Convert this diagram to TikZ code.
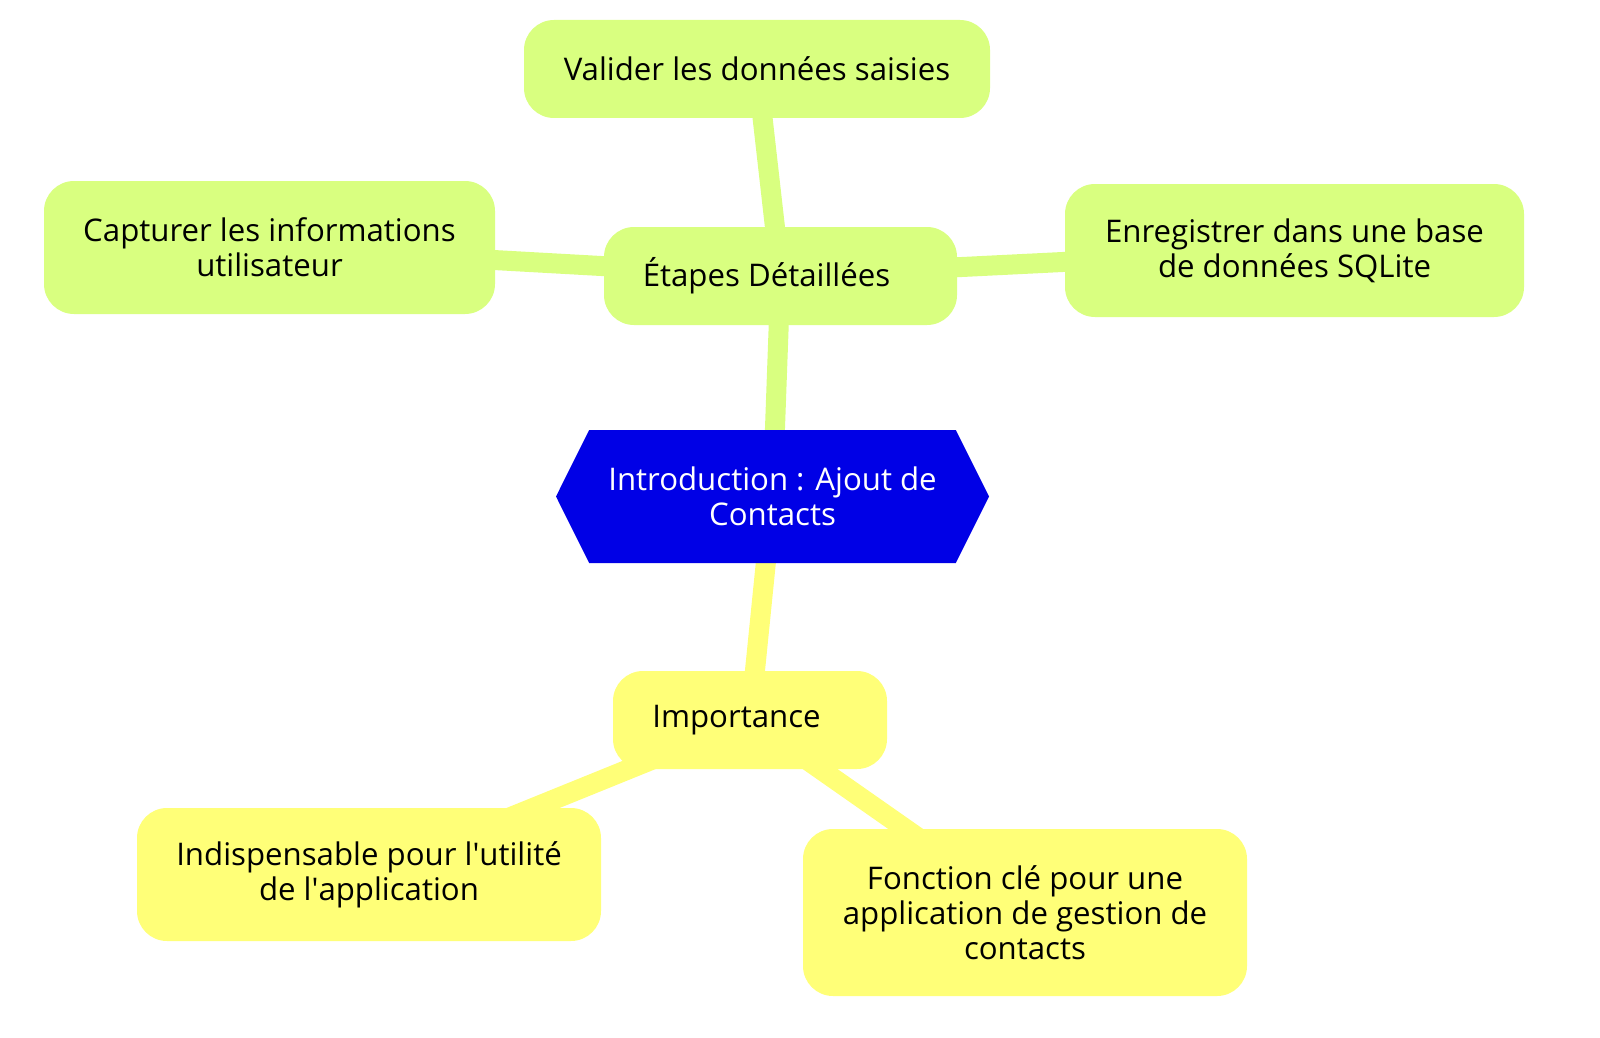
\documentclass[tikz,border=0pt]{standalone}
\usepackage{fontspec}
\setmainfont{Open Sans}
\usetikzlibrary{shapes.symbols,backgrounds}
\definecolor{stepgreen}{HTML}{D9FF80}
\definecolor{keyyellow}{HTML}{FFFF78}
\definecolor{rootblue}{HTML}{0000E6}
\tikzset{%
  mapnode/.style  = {shape=rectangle, rounded corners=15pt, align=center,%
                     inner sep=0pt, font=\fontsize{15.6}{17.5}\selectfont},%
  stepnode/.style = {mapnode, fill=stepgreen},%
  keynode/.style  = {mapnode, fill=keyyellow},%
  root/.style     = {shape=signal, signal to=east and west, signal pointer angle=127,%
                     fill=rootblue, text=white, align=center, inner sep=0pt,%
                     font=\fontsize{15.6}{17.5}\selectfont},%
  branch/.style   = {line width=10pt}%
}
\begin{document}
\begin{tikzpicture}[x=0.5pt, y=-0.5pt]
              % -------------- ROOT -----------------------------
              \node [root, minimum width=216.5pt, minimum height=66.5pt] (intro) at (772.5,496.5)
                {Introduction : Ajout de\\Contacts};
              % -------------- DETAILED STEPS -----------------------------
              \node [stepnode, minimum width=176.5pt, minimum height=49pt] (etapes) at (780.5,276)
                {\'Etapes D\'etaill\'ees\hspace*{14pt}};
              \node [stepnode, minimum width=233pt, minimum height=49pt] (valider) at (757,69)
                {Valider les donn\'ees saisies};
              \node [stepnode, minimum width=225.5pt, minimum height=66.5pt] (capturer) at (269.5,247.5)
                {Capturer les informations\\utilisateur};
              \node [stepnode, minimum width=229.5pt, minimum height=66.5pt] (enregistrer) at (1294.5,250.5)
                {Enregistrer dans une base\\de donn\'ees SQLite};
              % -------------- IMPORTANCE -----------------------------
              \node [keynode, minimum width=137pt, minimum height=49pt] (importance) at (750,720)
                {Importance\hspace*{13.5pt}};
              \node [keynode, minimum width=232pt, minimum height=66.5pt] (indisp) at (369,874.5)
                {Indispensable pour l\textquotesingle utilit\'e\\de l\textquotesingle application};
              \node [keynode, minimum width=222pt, minimum height=83.5pt] (fonction) at (1025,912.5)
                {Fonction cl\'e pour une\\application de gestion de\\contacts};
              \begin{scope}[on background layer]
                \draw [branch, stepgreen] (intro.center) -- (etapes.center);
                \draw [branch, stepgreen] (etapes.center) -- (valider.center);
                \draw [branch, stepgreen] (etapes.center) -- (capturer.center);
                \draw [branch, stepgreen] (etapes.center) -- (enregistrer.center);
                \draw [branch, keyyellow] (intro.center) -- (importance.center);
                \draw [branch, keyyellow] (importance.center) -- (indisp.center);
                \draw [branch, keyyellow] (importance.center) -- (fonction.center);
              \end{scope}
              \pgfresetboundingbox
              \useasboundingbox (0,0) rectangle (1600,1038);
        \end{tikzpicture}
\end{document}
